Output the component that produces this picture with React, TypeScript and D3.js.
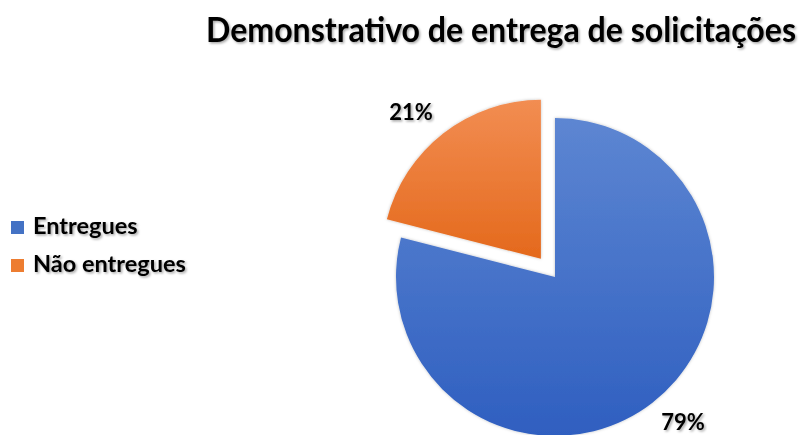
import React, { useLayoutEffect, useRef, useState } from "react";
import * as d3 from "d3";

const categories = ["Entregues", "Não entregues"];
const values = [79, 21];
const labels = ["79%", "21%"];
const title = "Demonstrativo de entrega de solicitações";

const W = 804;
const H = 435;
const cx = 555;
const cy = 277;
const R = 159;
const explode = [0, 23];
const gradients = [
  ["#5d86d2", "#2f5fc0"],
  ["#f28d52", "#e4691c"],
];
const legendColors = ["#4472c4", "#ed7d31"];
const font = "Lato, 'Open Sans', sans-serif";
const titleWidth = 590;

export default function App() {
  const titleRef = useRef<SVGTextElement>(null);
  const [sx, setSx] = useState(0.9);
  useLayoutEffect(() => {
    if (titleRef.current) {
      const w = titleRef.current.getBBox().width;
      if (w > 0) setSx(titleWidth / w);
    }
  }, []);
  const pie = d3.pie<number>().sort(null).value((d) => d);
  const arcs = pie(values);
  const arc = d3.arc<d3.PieArcDatum<number>>().innerRadius(0).outerRadius(R);
  const labelPos = [
    { x: 683, y: 430 },
    { x: 411, y: 120 },
  ];
  return (
    <svg width={W} height={H} style={{ position: "absolute", left: 0, top: 0, background: "#fff" }}>
      <defs>
        {gradients.map((g, i) => (
          <linearGradient key={i} id={`g${i}`} x1="0" y1="0" x2="0" y2="1">
            <stop offset="0" stopColor={g[0]} />
            <stop offset="1" stopColor={g[1]} />
          </linearGradient>
        ))}
        <filter id="ts" x="-5%" y="-20%" width="110%" height="150%">
          <feDropShadow dx="1.5" dy="1.5" stdDeviation="1" floodColor="#000" floodOpacity="0.35" />
        </filter>
        <filter id="ps" x="-10%" y="-10%" width="120%" height="120%">
          <feDropShadow dx="0" dy="0" stdDeviation="1.5" floodColor="#000" floodOpacity="0.25" />
        </filter>
      </defs>
      <g transform={`translate(206,42) scale(${sx},1)`}>
        <text ref={titleRef} x={0} y={0} fontFamily={font} fontWeight={700} fontSize={35} fill="#000" filter="url(#ts)">
          {title}
        </text>
      </g>
      {arcs.map((a, i) => {
        const mid = (a.startAngle + a.endAngle) / 2;
        const dx = Math.sin(mid) * explode[i];
        const dy = -Math.cos(mid) * explode[i];
        return (
          <path key={i} d={arc(a) || ""} transform={`translate(${cx + dx},${cy + dy})`} fill={`url(#g${i})`} filter="url(#ps)" />
        );
      })}
      {labels.map((l, i) => (
        <text key={i} x={labelPos[i].x} y={labelPos[i].y} textAnchor="middle" fontFamily={font} fontWeight={700} fontSize={22} fill="#000" filter="url(#ts)">
          {l}
        </text>
      ))}
      {categories.map((c, i) => (
        <g key={i} transform={`translate(11,${221 + i * 38})`}>
          <rect width={13} height={13} fill={legendColors[i]} />
          <text x={22} y={13} fontFamily={font} fontWeight={700} fontSize={23.5} fill="#000" filter="url(#ts)">
            {c}
          </text>
        </g>
      ))}
    </svg>
  );
}
